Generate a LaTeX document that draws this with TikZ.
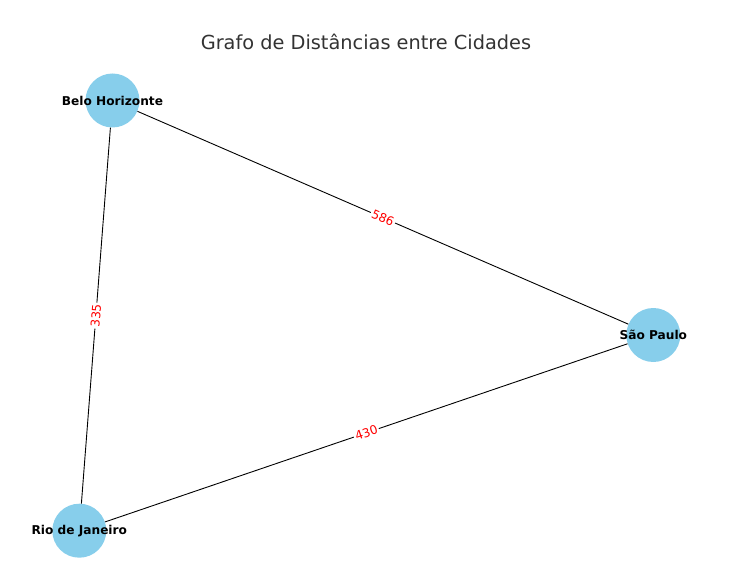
\documentclass[tikz,border=0pt]{standalone}
\usepackage{fontspec}
\setmainfont{DejaVu Sans}
\definecolor{skyblue}{RGB}{135,206,235}
\definecolor{titlegray}{RGB}{51,51,51}
\begin{document}
\begin{tikzpicture}[x=1bp,y=-1bp,
  city/.style={circle,fill=skyblue,minimum size=54bp,inner sep=0pt},
  citylabel/.style={font=\fontsize{12.2}{14}\selectfont\bfseries,inner sep=0pt},
  edge/.style={draw=black,line width=0.9bp},
  elabel/.style={font=\fontsize{12.2}{14}\selectfont,text=red,fill=white,inner sep=1.5bp,sloped,midway}]
\useasboundingbox (0,0) rectangle (747,586);
\node[font=\fontsize{19.4}{22}\selectfont,text=titlegray] (title) at (366,42) {Grafo de Distâncias entre Cidades};
\node[city] (bh) at (112.5,100.5) {};
\node[city] (sp) at (653.3,335) {};
\node[city] (rj) at (79.3,530.7) {};
\draw[edge] (bh) -- (sp) node[elabel] {586};
\draw[edge] (bh) -- (rj) node[elabel] {335};
\draw[edge] (rj) -- (sp) node[elabel] {430};
\node[citylabel] (bhl) at (bh) {Belo Horizonte};
\node[citylabel] (spl) at (sp) {São Paulo};
\node[citylabel] (rjl) at (rj) {Rio de Janeiro};
\end{tikzpicture}
\end{document}
